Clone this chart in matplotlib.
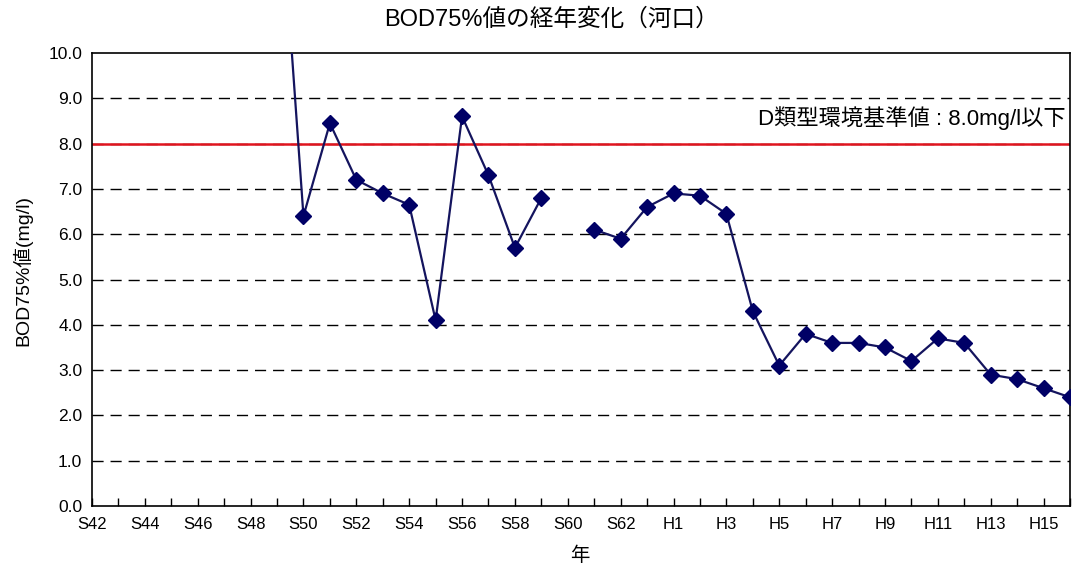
import matplotlib
matplotlib.use("Agg")
import matplotlib.pyplot as plt
import numpy as np

plt.rcParams['font.family'] = ['Liberation Sans', 'Noto Sans CJK JP', 'DejaVu Sans']

categories = [f"S{y}" for y in range(42, 64)] + [f"H{y}" for y in range(1, 17)]
bod75 = [None, None, None, None, None, None, None, 14.6,
         6.4, 8.45, 7.2, 6.9, 6.65, 4.1, 8.6, 7.3, 5.7, 6.8, None, 6.1, 5.9, 6.6,
         6.9, 6.85, 6.45, 4.3, 3.1, 3.8, 3.6, 3.6, 3.5, 3.2, 3.7, 3.6, 2.9, 2.8, 2.6, 2.4]
standard_value = 8.0
standard_label = "D類型環境基準値 : 8.0mg/l以下"
title = "BOD75%値の経年変化（河口）"
ylabel = "BOD75%値(mg/l)"
xlabel = "年"

x = np.arange(len(categories))
y = np.array([np.nan if v is None else v for v in bod75], dtype=float)

fig = plt.figure(figsize=(10.72, 5.75), dpi=100)
ax = fig.add_axes([92/1072, 1-506/575, (1070-92)/1072, (506-53)/575])

for g in range(1, 10):
    ax.axhline(g, color='black', lw=1.0, ls=(0, (8, 5)), zorder=1)
ax.axhline(standard_value, color='#e0141e', lw=1.8, zorder=2)

ax.plot(x, y, color='#14145e', lw=1.6, marker='D', ms=8.5,
        markerfacecolor='#000066', markeredgecolor='#000066', zorder=3)

ax.set_xlim(0, len(categories) - 1)
ax.set_ylim(0, 10)
ax.set_yticks(np.arange(0, 10.01, 1.0))
ax.set_yticklabels([f"{v:.1f}" for v in np.arange(0, 10.01, 1.0)], fontsize=12.5)
ax.set_xticks(x)
ax.set_xticklabels([c if i % 2 == 0 else "" for i, c in enumerate(categories)], fontsize=12)
ax.tick_params(axis='x', direction='in', length=6, width=1, pad=8)
ax.tick_params(axis='y', length=0, pad=7)
for s in ax.spines.values():
    s.set_color('black')
    s.set_linewidth(1.2)

ax.text(len(categories) - 1.15, 8.57, standard_label,
        ha='right', va='center', fontsize=16, color='black')

fig.text(552/1072, 1-20/575, title, ha='center', va='center', fontsize=17)
fig.text(22/1072, 1-270/575, ylabel, ha='center', va='center', rotation=90, fontsize=14)
fig.text(580/1072, 1-556/575, xlabel, ha='center', va='center', fontsize=14)

fig.savefig("out.png", dpi=100)
